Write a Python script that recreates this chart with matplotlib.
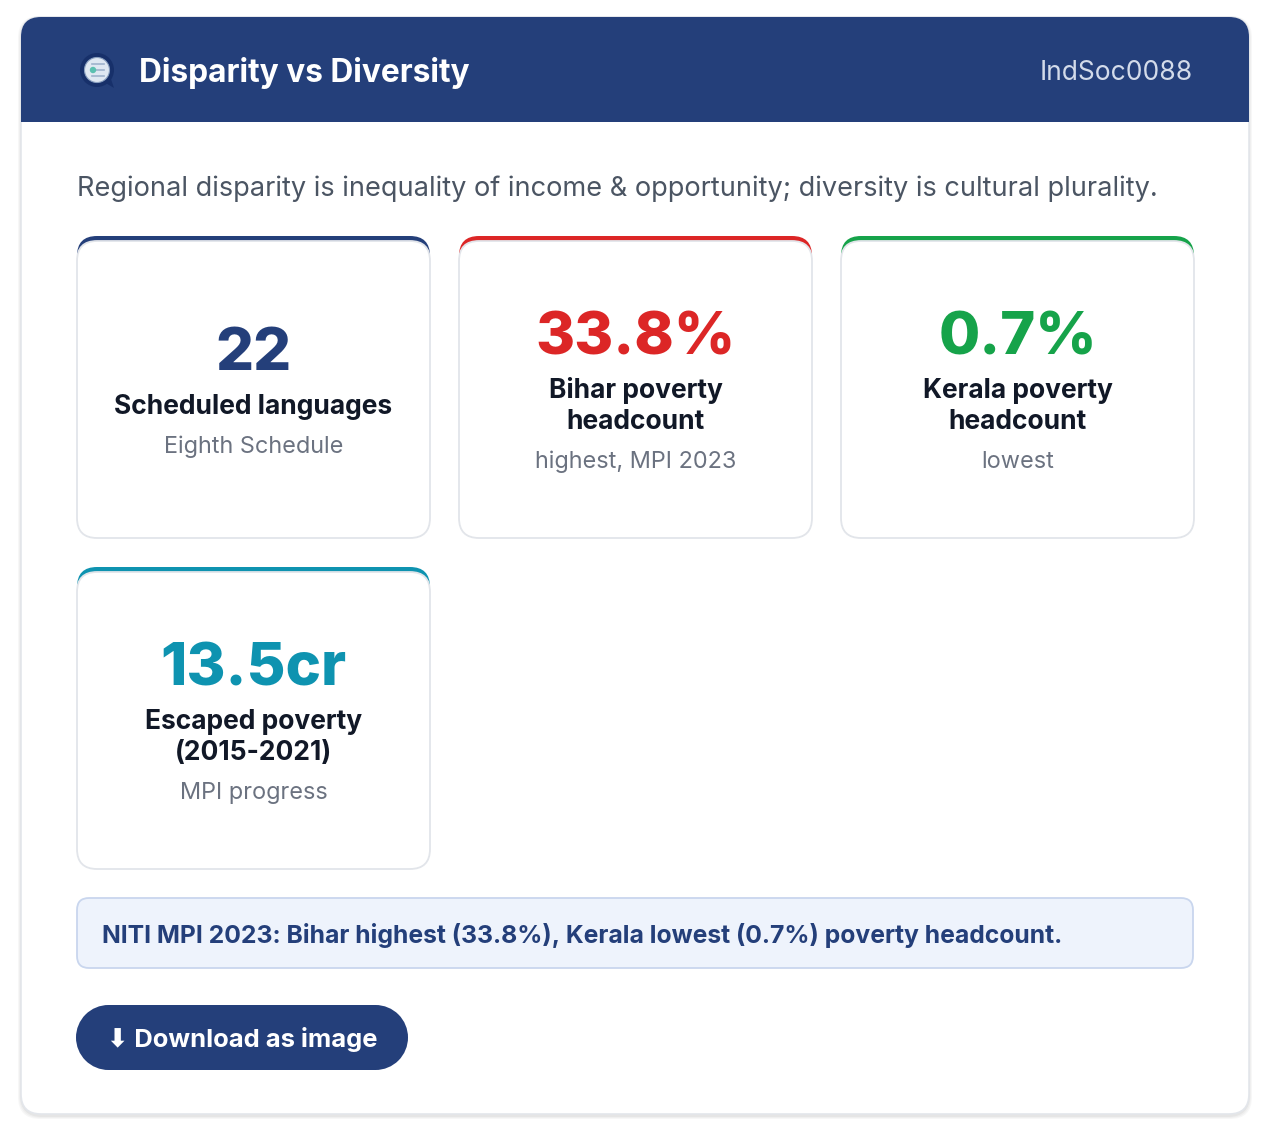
import matplotlib
matplotlib.use("Agg")
import matplotlib.pyplot as plt
from matplotlib.patches import FancyBboxPatch, Rectangle, Circle, Polygon

plt.rcParams["font.family"] = ["Inter", "DejaVu Sans"]

# card content
values = ["22", "33.8%", "0.7%", "13.5cr"]
labels = ["Scheduled languages", "Bihar poverty\nheadcount", "Kerala poverty\nheadcount", "Escaped poverty\n(2015-2021)"]
sublabels = ["Eighth Schedule", "highest, MPI 2023", "lowest", "MPI progress"]
accents = ["#243f7a", "#dc2626", "#16a34a", "#0e93b0"]

title = "Disparity vs Diversity"
code = "IndSoc0088"
subtitle = "Regional disparity is inequality of income & opportunity; diversity is cultural plurality."
note = "NITI MPI 2023: Bihar highest (33.8%), Kerala lowest (0.7%) poverty headcount."
button = "\u2b07 Download as image"

NAVY = "#243f7a"

W, H = 1270, 1139
fig = plt.figure(figsize=(W / 100, H / 100), dpi=100)
ax = fig.add_axes([0, 0, 1, 1])
ax.set_xlim(0, W)
ax.set_ylim(H, 0)
ax.axis("off")


def rbox(x, y, w, h, r, fc, ec="none", lw=0, z=1):
    p = FancyBboxPatch((x, y), w, h, boxstyle=f"round,pad=0,rounding_size={r}",
                       fc=fc, ec=ec, lw=lw, zorder=z)
    ax.add_patch(p)
    return p


# outer card + soft shadow
for i, a in enumerate([0.03, 0.03, 0.04]):
    rbox(21 - 3 + i, 17 - 1 + i, 1228 + 6 - 2 * i, 1097 + 6 - 2 * i, 22, "#000000", z=0).set_alpha(a)
rbox(21, 17, 1228, 1097, 20, "white", "#e3e6eb", 1.2, z=1)

# header band
rbox(21, 17, 1228, 105, 20, NAVY, z=2)
ax.add_patch(Rectangle((21, 80), 1228, 42, fc=NAVY, ec="none", zorder=2))

# logo
ax.add_patch(Polygon([[104, 82], [114, 88], [110, 76]], closed=True, fc="#17306a", ec="none", zorder=3))
ax.add_patch(Circle((97, 70), 17, fc="#17306a", ec="none", zorder=3))
ax.add_patch(Circle((97, 70), 12.5, fc="#dfe8f2", ec="#8aa0c0", lw=0.8, zorder=4))
for yy in (64, 70, 76):
    ax.plot([92, 104], [yy, yy], color="#9fb2cc", lw=1.2, zorder=5)
ax.add_patch(Circle((93, 70), 3.2, fc="#5bc0b0", ec="none", zorder=6))

ax.text(139, 73, title, color="white", fontsize=22.8, fontweight="bold", va="center", ha="left", zorder=5)
ax.text(1193, 73, code, color="#d3dbea", fontsize=19, va="center", ha="right", zorder=5)

ax.text(77, 189, subtitle, color="#4b5563", fontsize=19.55, va="center", ha="left", zorder=5)

# stat cards
card_x = [77, 459, 841, 77]
card_y = [236, 236, 236, 567]
cw, ch = 353, 302
for i in range(len(values)):
    x, y = card_x[i], card_y[i]
    rbox(x, y, cw, ch, 20, accents[i], z=2)
    rbox(x, y + 5, cw, ch - 5, 20, "white", "#e2e5ea", 1.3, z=3)
    cx = x + cw / 2
    two = "\n" in labels[i]
    top = y + (103 if two else 119)
    ax.text(cx, top, values[i], color=accents[i], fontsize=43, fontweight="heavy",
            ha="center", va="center", zorder=5)
    if two:
        l1, l2 = labels[i].split("\n")
        ax.text(cx, y + 155, l1, color="#111827", fontsize=19, fontweight="bold", ha="center", va="center", zorder=5)
        ax.text(cx, y + 186, l2, color="#111827", fontsize=19, fontweight="bold", ha="center", va="center", zorder=5)
        ax.text(cx, y + 226, sublabels[i], color="#6b7280", fontsize=16.9, ha="center", va="center", zorder=5)
    else:
        ax.text(cx, y + 171, labels[i], color="#111827", fontsize=19, fontweight="bold", ha="center", va="center", zorder=5)
        ax.text(cx, y + 211, sublabels[i], color="#6b7280", fontsize=16.9, ha="center", va="center", zorder=5)

# note box
rbox(77, 898, 1116, 70, 12, "#eef3fc", "#c9d6ee", 1.3, z=3)
ax.text(102, 935, note, color=NAVY, fontsize=17.8, fontweight="bold", va="center", ha="left", zorder=5)

# download button (pill)
bx, by, bw, bh = 76, 1005, 332, 65
r = bh / 2
ax.add_patch(Rectangle((bx + r, by), bw - 2 * r, bh, fc=NAVY, ec="none", zorder=3))
ax.add_patch(Circle((bx + r, by + r), r, fc=NAVY, ec="none", zorder=3))
ax.add_patch(Circle((bx + bw - r, by + r), r, fc=NAVY, ec="none", zorder=3))
ax.text(242.5, 1039, button, color="white", fontsize=18.4, fontweight="bold", va="center", ha="center", zorder=5)

fig.savefig("out.png", dpi=100)
